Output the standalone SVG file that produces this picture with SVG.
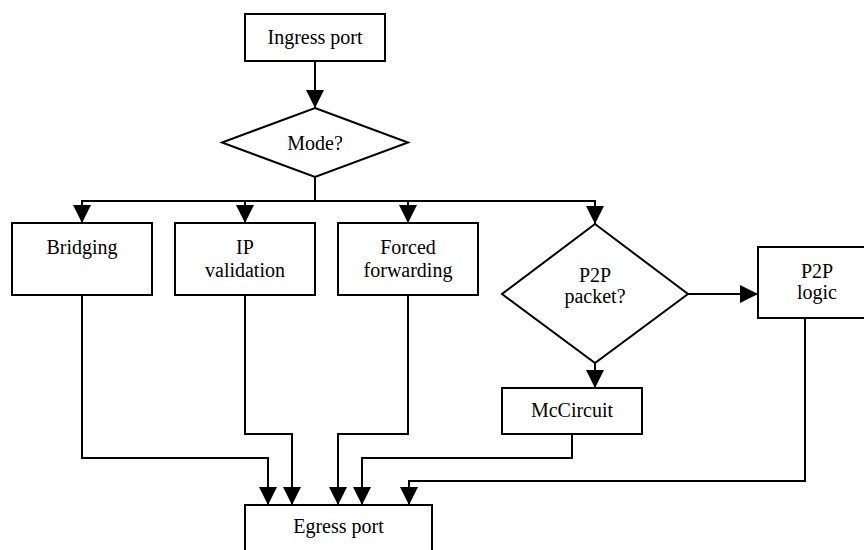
<svg xmlns="http://www.w3.org/2000/svg" width="864" height="550" viewBox="0 0 864 550">
  <style>
    .box { fill: #ffffff; stroke: #000000; stroke-width: 2; }
    .lbl { font-family: "Times New Roman", "Liberation Serif", Tinos, "Nimbus Roman", "Noto Serif", "DejaVu Serif", FreeSerif, Times, serif; font-size: 20px; fill: #000000; text-anchor: middle; }
    .wire { fill: none; stroke: #000000; stroke-width: 2; marker-end: url(#arrow); }
    .plain { fill: none; stroke: #000000; stroke-width: 2; }
  </style>
  <defs>
    <marker id="arrow" markerUnits="userSpaceOnUse" markerWidth="18" markerHeight="18" viewBox="0 0 16 16" refX="16" refY="8" orient="auto">
      <path d="M0,0 L16,8 L0,16 Z" fill="#000000"/>
    </marker>
  </defs>
  <rect width="864" height="550" fill="#ffffff"/>

  <g id="connectors">
    <path class="wire" d="M315 61 V108"/>
    <path class="plain" d="M315 177 V201"/>
    <path class="wire" d="M315 201 H82 V223"/>
    <path class="wire" d="M315 201 H245 V223"/>
    <path class="wire" d="M315 201 H408 V223"/>
    <path class="wire" d="M315 201 H595 V224"/>
    <path class="wire" d="M688 294 H758"/>
    <path class="wire" d="M595 363 V388"/>
    <path class="wire" d="M82 295 V458 H268 V505"/>
    <path class="wire" d="M245 295 V434 H292 V505"/>
    <path class="wire" d="M408 295 V434 H338 V505"/>
    <path class="wire" d="M572 434 V458 H362 V505"/>
    <path class="wire" d="M805 318 V481 H409 V505"/>
  </g>

  <g id="ingress">
    <rect class="box" x="245" y="14" width="140" height="47"/>
    <text class="lbl" x="315" y="44">Ingress port</text>
  </g>

  <g id="mode">
    <polygon class="box" points="315,108 408,142.5 315,177 222,142.5"/>
    <text class="lbl" x="315" y="150">Mode?</text>
  </g>

  <g id="bridging">
    <rect class="box" x="12" y="223" width="140" height="72"/>
    <text class="lbl" x="82" y="254">Bridging</text>
  </g>

  <g id="ip-validation">
    <rect class="box" x="175" y="223" width="140" height="72"/>
    <text class="lbl" x="245" y="254">IP</text>
    <text class="lbl" x="245" y="277">validation</text>
  </g>

  <g id="forced-forwarding">
    <rect class="box" x="338" y="223" width="140" height="72"/>
    <text class="lbl" x="408" y="254">Forced</text>
    <text class="lbl" x="408" y="277">forwarding</text>
  </g>

  <g id="p2p-packet">
    <polygon class="box" points="595,224 688,294 595,363 502,294"/>
    <text class="lbl" x="595" y="282">P2P</text>
    <text class="lbl" x="595" y="303">packet?</text>
  </g>

  <g id="p2p-logic">
    <rect class="box" x="758" y="247" width="118" height="71"/>
    <text class="lbl" x="817" y="278">P2P</text>
    <text class="lbl" x="817" y="299">logic</text>
  </g>

  <g id="mccircuit">
    <rect class="box" x="502" y="388" width="140" height="46"/>
    <text class="lbl" x="572" y="417">McCircuit</text>
  </g>

  <g id="egress">
    <rect class="box" x="245" y="505" width="187" height="60"/>
    <text class="lbl" x="338.5" y="533">Egress port</text>
  </g>
</svg>
